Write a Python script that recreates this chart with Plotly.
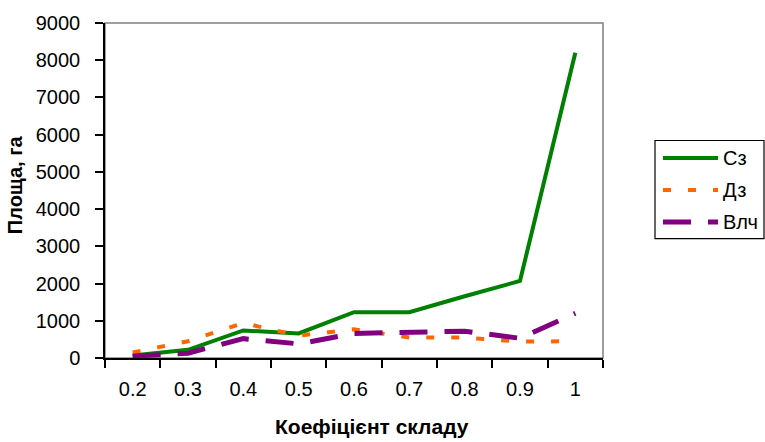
import plotly.graph_objects as go

# Коефіцієнт складу (categories) and area, ha, for each group
categories = ["0.2", "0.3", "0.4", "0.5", "0.6", "0.7", "0.8", "0.9", "1"]
sz_values = [70, 220, 740, 660, 1230, 1230, 1660, 2070, 8200]
dz_values = [150, 450, 940, 600, 770, 550, 550, 440, 450]
vlch_values = [50, 130, 520, 380, 660, 700, 720, 530, 1200]
y_ticks = [0, 1000, 2000, 3000, 4000, 5000, 6000, 7000, 8000, 9000]

series = [
    ("Сз", sz_values, "#008000", "solid", 4),
    ("Дз", dz_values, "#FF6600", "8px,17px", 4),
    ("Влч", vlch_values, "#800080", "28px,17px", 5),
]

W, H = 765, 442
L, R, T, B = 105, 162, 13, 84
pw, ph = W - L - R, H - T - B

def px(x):
    return (x - L) / pw

def py(y):
    return (H - B - y) / ph

fig = go.Figure()
for name, vals, color, dash, width in series:
    fig.add_trace(go.Scatter(
        x=categories, y=vals, mode="lines", name=name,
        line=dict(color=color, dash=dash, width=width),
        showlegend=False,
    ))

font = "Liberation Sans, Arial, sans-serif"

shapes = [
    # grey frame around the plotting area
    dict(type="rect", xref="paper", yref="paper", x0=0, x1=1, y0=0, y1=1,
         line=dict(color="#808080", width=1.5), layer="below"),
    # legend box
    dict(type="rect", xref="paper", yref="paper",
         x0=px(655), x1=px(764), y0=py(235), y1=py(134),
         line=dict(color="black", width=1.2), fillcolor="white"),
]
annotations = [
    dict(xref="paper", yref="paper", x=px(372), y=py(429),
         text="<b>Коефіцієнт складу</b>", showarrow=False,
         xanchor="center", yanchor="middle",
         font=dict(family=font, size=21, color="black")),
    dict(xref="paper", yref="paper", x=px(15), y=py(180),
         text="<b>Площа, га</b>", showarrow=False, textangle=-90,
         xanchor="center", yanchor="middle",
         font=dict(family=font, size=20, color="black")),
]
legend_rows = [152, 185, 218]
for (name, vals, color, dash, width), yrow in zip(series, legend_rows):
    shapes.append(dict(type="line", xref="paper", yref="paper",
                       x0=px(663), x1=px(718), y0=py(yrow), y1=py(yrow),
                       line=dict(color=color, dash=dash, width=width)))
    annotations.append(dict(xref="paper", yref="paper", x=px(721), y=py(yrow),
                            text=name, showarrow=False, xanchor="left",
                            yanchor="middle",
                            font=dict(family=font, size=20, color="black")))

fig.update_layout(
    width=W, height=H,
    margin=dict(l=L, r=R, t=T, b=B),
    paper_bgcolor="white", plot_bgcolor="white",
    font=dict(family=font, size=20, color="black"),
    shapes=shapes, annotations=annotations,
    xaxis=dict(
        type="category", range=[-0.5, 8.5], tickson="boundaries",
        ticks="outside", ticklen=8, tickcolor="black", tickwidth=1.5,
        showline=True, linecolor="black", linewidth=1.5,
        showgrid=False, zeroline=False, ticklabelstandoff=12,
        tickfont=dict(family=font, size=20),
    ),
    yaxis=dict(
        range=[0, 9000], tickvals=y_ticks,
        ticks="outside", ticklen=8, tickcolor="black", tickwidth=1.5,
        showline=True, linecolor="black", linewidth=1.5,
        showgrid=False, zeroline=False, ticklabelstandoff=11,
        tickfont=dict(family=font, size=20),
    ),
)

fig.write_html("out.html")
